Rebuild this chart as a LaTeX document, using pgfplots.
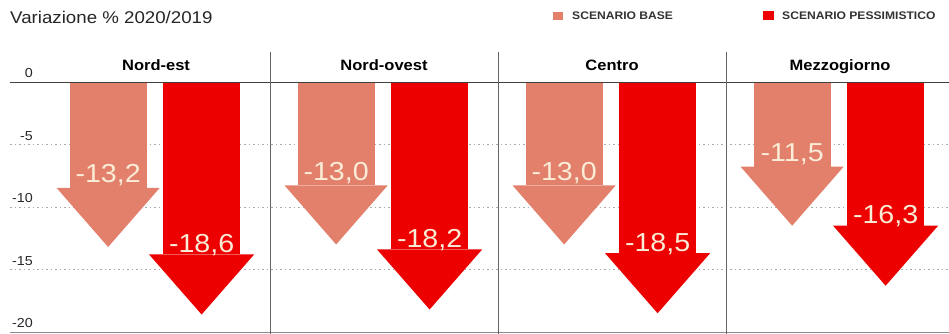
\documentclass[border=0pt]{standalone}
\usepackage{pgfplots}
\pgfplotsset{compat=1.18}
\usepackage{pgfplotstable}
\usetikzlibrary{arrows.meta}
\usepackage{fontspec}
\setmainfont[FakeStretch=1.1]{Liberation Sans}
\definecolor{basecol}{RGB}{226,128,108}
\definecolor{pesscol}{RGB}{236,0,0}
\definecolor{labcol}{RGB}{250,236,214}
\definecolor{gridcol}{RGB}{170,170,170}

\pgfplotstableread{
x y0 v lab
0.29 0 -13.2 -13,2
1.29 0 -13.0 -13,0
2.29 0 -13.0 -13,0
3.29 0 -11.5 -11,5
}\basetab
\pgfplotstableread{
x y0 v lab
0.70 0 -18.6 -18,6
1.70 0 -18.2 -18,2
2.70 0 -18.5 -18,5
3.70 0 -16.3 -16,3
}\pesstab

\begin{document}
\begin{tikzpicture}
\begin{axis}[
  width=939pt, height=250pt, scale only axis,
  xmin=-0.1404, xmax=3.978,
  ymin=-20, ymax=0,
  clip=false,
  axis line style={draw=none},
  xtick=\empty,
  ytick={0,-5,-10,-15,-20},
  yticklabels={0,-5,-10,-15,-20},
  major tick length=0pt,
  ymajorgrids,
  grid style={gridcol, line width=0.6pt, dash pattern=on 1.5pt off 3pt},
  yticklabel style={anchor=south east, inner sep=0pt, xshift=23pt, yshift=4pt, font=\fontsize{13}{13}\selectfont, text=black!85},
]
\addplot[draw=basecol, line width=77pt,
  -{Triangle[line width=0pt, width=103pt, length=59pt]},
  quiver={u=0, v=\thisrow{v}}] table[x=x, y=y0] {\basetab};
\addplot[draw=pesscol, line width=77pt,
  -{Triangle[line width=0pt, width=105pt, length=60pt]},
  quiver={u=0, v=\thisrow{v}}] table[x=x, y=y0] {\pesstab};
\addplot[only marks, mark=none, point meta=explicit symbolic,
  nodes near coords,
  every node near coord/.append style={anchor=base, yshift=64pt, text=labcol,
    font=\fontsize{26}{26}\selectfont, inner sep=0pt}]
  table[x=x, y=v, meta=lab] {\basetab};
\addplot[only marks, mark=none, point meta=explicit symbolic,
  nodes near coords,
  every node near coord/.append style={anchor=base, yshift=62pt, text=labcol,
    font=\fontsize{26}{26}\selectfont, inner sep=0pt}]
  table[x=x, y=v, meta=lab] {\pesstab};
\draw[black!75, line width=0.9pt] (rel axis cs:0,1) -- (rel axis cs:1,1);
\draw[black!45, line width=0.7pt] (rel axis cs:0,0) -- (rel axis cs:1,0);
\pgfplotsinvokeforeach{1,2,3}{
  \draw[black!60, line width=0.8pt] (axis cs:#1,-20.2) -- (axis cs:#1,2.4);
}
\node[anchor=base, font=\bfseries\fontsize{15}{15}\selectfont] at ([yshift=11pt]axis cs:0.5,0) {Nord-est};
\node[anchor=base, font=\bfseries\fontsize{15}{15}\selectfont] at ([yshift=11pt]axis cs:1.5,0) {Nord-ovest};
\node[anchor=base, font=\bfseries\fontsize{15}{15}\selectfont] at ([yshift=11pt]axis cs:2.5,0) {Centro};
\node[anchor=base, font=\bfseries\fontsize{15}{15}\selectfont] at ([yshift=11pt]axis cs:3.5,0) {Mezzogiorno};
\node[anchor=base west, inner sep=0pt, font=\fontsize{17}{17}\selectfont, text=black!85] at ([xshift=0pt, yshift=58pt]rel axis cs:0,1) {Variazione \% 2020/2019};
\fill[basecol] ([xshift=543pt, yshift=62pt]rel axis cs:0,1) rectangle ++(10pt,8pt);
\node[anchor=base west, inner sep=0pt, font=\bfseries\fontsize{11}{11}\selectfont, text=black!80] at ([xshift=562pt, yshift=62pt]rel axis cs:0,1) {SCENARIO BASE};
\fill[pesscol] ([xshift=753pt, yshift=62pt]rel axis cs:0,1) rectangle ++(11pt,9pt);
\node[anchor=base west, inner sep=0pt, font=\bfseries\fontsize{11}{11}\selectfont, text=black!80] at ([xshift=772pt, yshift=62pt]rel axis cs:0,1) {SCENARIO PESSIMISTICO};
\end{axis}
\pgfresetboundingbox
\path[use as bounding box] ([shift={(-10pt,-2pt)}]current axis.south west) rectangle ([shift={(0pt,82pt)}]current axis.north east);
\end{tikzpicture}
\end{document}
